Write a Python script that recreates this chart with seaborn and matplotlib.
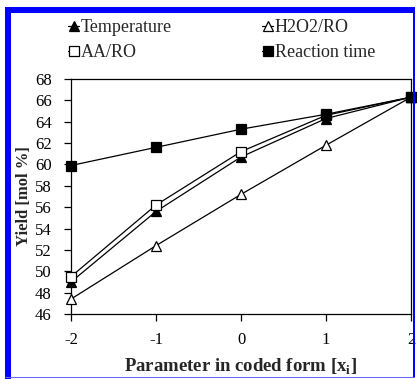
import matplotlib
matplotlib.use("Agg")
import matplotlib.pyplot as plt
import numpy as np
import pandas as pd
import seaborn as sns
from matplotlib.patches import Rectangle

# values
coded = [-2, -1, 0, 1, 2]
temperature = [49.0, 55.6, 60.7, 64.3, 66.3]
h2o2_ro = [47.4, 52.4, 57.2, 61.8, 66.3]
aa_ro = [49.5, 56.2, 61.2, 64.6, 66.3]
reaction_time = [59.9, 61.6, 63.3, 64.7, 66.3]

yticks = np.arange(46, 69, 2)
xticks = [-2, -1, 0, 1, 2]

sns.set_style("ticks")
plt.rcParams['font.family'] = ['Liberation Serif', 'DejaVu Serif']
plt.rcParams['axes.unicode_minus'] = False
plt.rcParams['mathtext.fontset'] = 'custom'
plt.rcParams['mathtext.rm'] = 'Liberation Serif'
plt.rcParams['mathtext.bf'] = 'Liberation Serif:bold'

fig = plt.figure(figsize=(4.17, 3.79), dpi=100)
ax = fig.add_axes([71/417, 1-314/379, (411-71)/417, (314-79)/379])

series = [
    ("Temperature", temperature, "^", "black"),
    ("AA/RO", aa_ro, "s", "white"),
    ("H2O2/RO", h2o2_ro, "^", "white"),
    ("Reaction time", reaction_time, "s", "black"),
]
for name, vals, mk, fc in series:
    df = pd.DataFrame({"x": coded, "y": vals})
    sns.lineplot(data=df, x="x", y="y", ax=ax, color="black", lw=0.9,
                 marker=mk, markersize=7, markerfacecolor=fc,
                 markeredgecolor="black", markeredgewidth=0.9, label=name,
                 clip_on=False, zorder=3)

ax.set_xlim(-2, 2)
ax.set_ylim(46, 68)
ax.set_xticks(xticks)
ax.set_yticks(yticks)
ax.tick_params(axis="both", labelsize=12, direction="out", length=5,
               width=0.9, colors="black")
ax.tick_params(axis="x", pad=8)
ax.tick_params(axis="y", pad=9)
for s in ax.spines.values():
    s.set_visible(True)
    s.set_linewidth(0.9)
    s.set_color("black")

ax.set_xlabel(r"Parameter in coded form [x$_\mathbf{i}$]", fontsize=13.5,
              fontweight="bold", labelpad=6)
ax.set_ylabel("Yield [mol %]", fontsize=12, fontweight="bold", labelpad=2)

ax.legend(ncol=2, loc="lower left", bbox_to_anchor=(-0.04, 1.03),
          frameon=False, fontsize=13, handlelength=0.6, handletextpad=0.1,
          columnspacing=5.0, borderaxespad=0.2, labelspacing=0.45)

# blue frame around the picture
fig.patches.append(Rectangle((5/417, 1-379/379), 6/417, (379-7)/379,
                             transform=fig.transFigure, color="blue", lw=0))
fig.patches.append(Rectangle((5/417, 1-13/379), (415-5)/417, 6/379,
                             transform=fig.transFigure, color="blue", lw=0))
fig.patches.append(Rectangle((413/417, 1-378/379), 2/417, (378-7)/379,
                             transform=fig.transFigure, color="blue", lw=0))
fig.patches.append(Rectangle((5/417, 1-378/379), (415-5)/417, 1/379,
                             transform=fig.transFigure, color="#6666ff", lw=0))

fig.savefig("out.png", dpi=100)
